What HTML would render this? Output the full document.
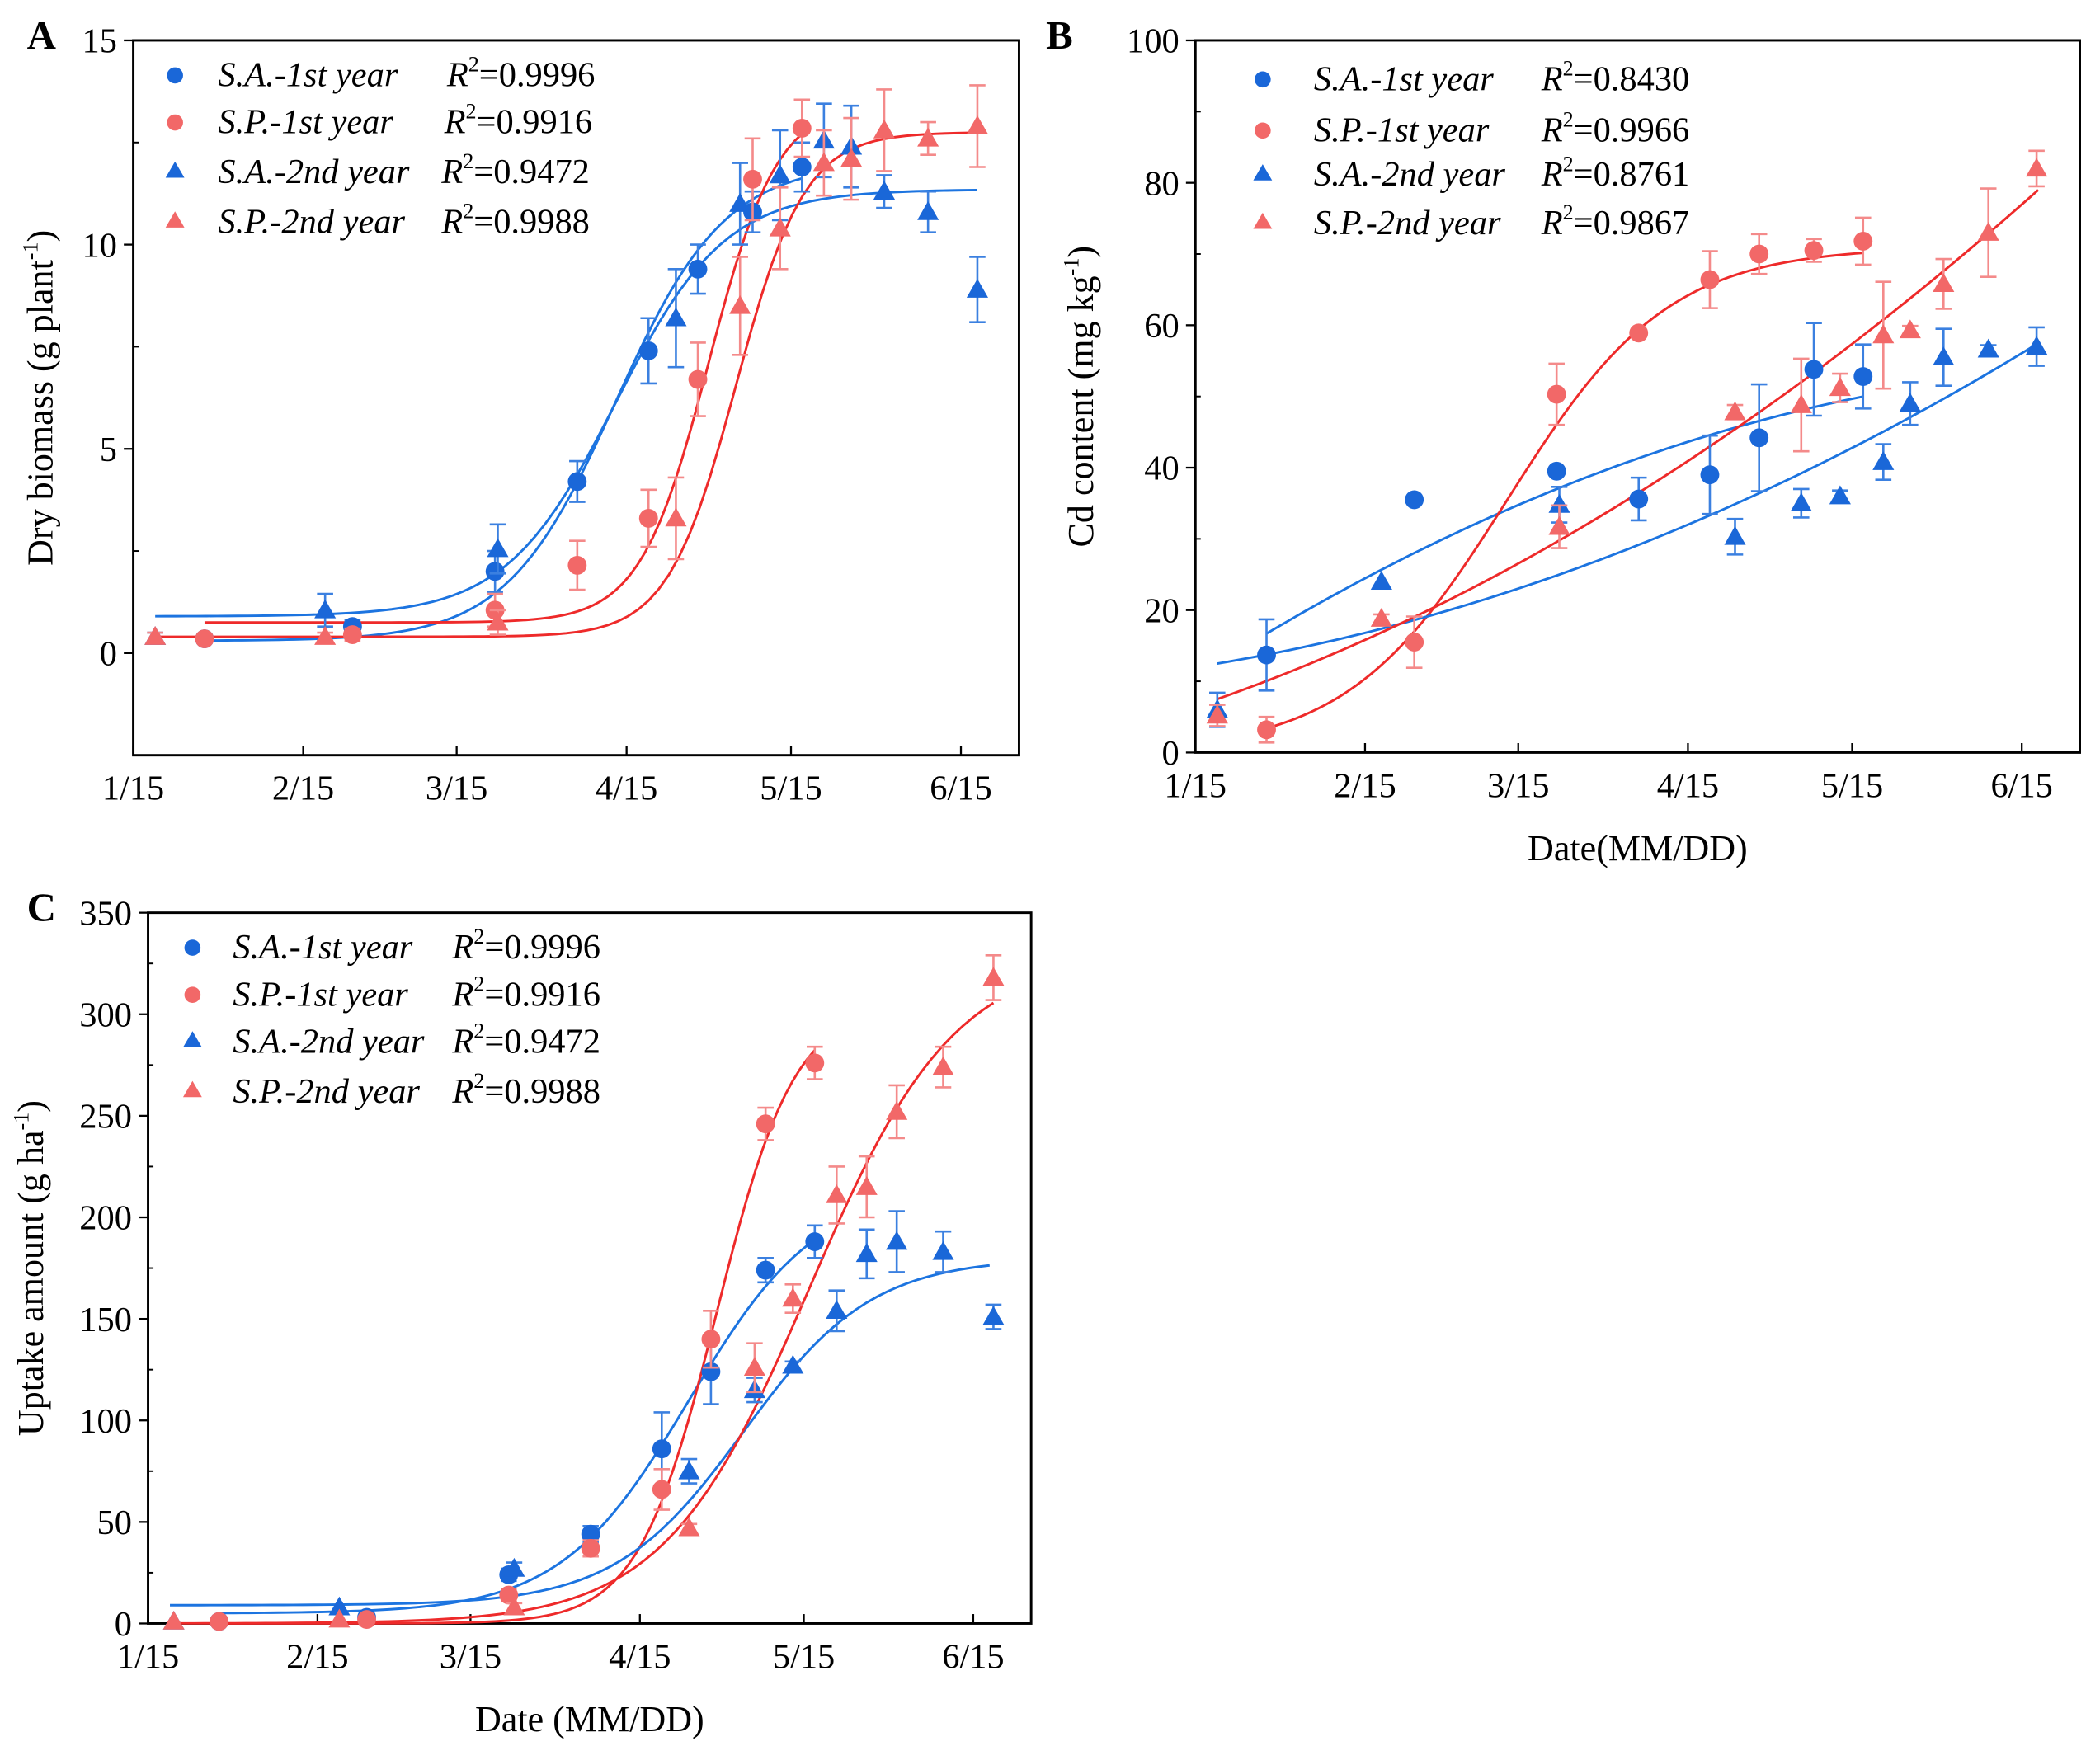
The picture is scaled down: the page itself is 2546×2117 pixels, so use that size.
<!DOCTYPE html>
<html><head><meta charset="utf-8"><style>
html,body{margin:0;padding:0;background:#fff;}
svg{display:block;font-family:"Liberation Serif",serif;}
</style></head><body>
<svg id="fig" width="2546" height="2117" viewBox="0 0 1560 1297" preserveAspectRatio="none" xmlns="http://www.w3.org/2000/svg"></svg>
<script>
// ---------- shared x axis ----------
const xTickDays = [0, 31, 59, 90, 120, 151];
const xTickLabels = ['1/15', '2/15', '3/15', '4/15', '5/15', '6/15'];
const xMaxDay = 161.6;
const seriesNames = ['S.A.-1st year', 'S.P.-1st year', 'S.A.-2nd year', 'S.P.-2nd year'];

// ---------- Panel A: dry biomass ----------
const aDays1 = [13, 40, 66, 81, 94, 103, 113, 122];
const aDays2 = [4, 35, 66.5, 99, 110.7, 118, 126, 131, 137, 145, 154];
const aSA1 = [0.35, 0.65, 2.0, 4.2, 7.4, 9.4, 10.8, 11.9];
const aSA1err = [0.1, 0.15, 0.5, 0.5, 0.8, 0.6, 0.5, 0.6];
const aSP1 = [0.35, 0.45, 1.05, 2.15, 3.3, 6.7, 11.6, 12.85];
const aSP1err = [0.1, 0.15, 0.4, 0.6, 0.7, 0.9, 1.0, 0.7];
const aSA2 = [0.4, 1.05, 2.55, 8.2, 11.0, 11.7, 12.55, 12.4, 11.3, 10.8, 8.9];
const aSA2err = [0.1, 0.4, 0.6, 1.2, 1.0, 1.1, 0.9, 1.0, 0.4, 0.5, 0.8];
const aSP2 = [0.4, 0.4, 0.75, 3.3, 8.5, 10.4, 12.0, 12.1, 12.8, 12.6, 12.9];
const aSP2err = [0.1, 0.1, 0.3, 1.0, 1.2, 1.0, 0.8, 1.0, 1.0, 0.4, 1.0];
const aR2 = ['0.9996', '0.9916', '0.9472', '0.9988'];
// logistic fit params [base, top, mid, rate, startDay, endDay]
const aFitSA1 = [0.3, 12, 88, 0.1, 13, 122];
const aFitSP1 = [0.75, 13.5, 105, 0.16, 13, 122];
const aFitSA2 = [0.9, 11.35, 88, 0.1, 4, 154];
const aFitSP2 = [0.4, 12.75, 110, 0.16, 4, 154];

// ---------- Panel B: Cd content ----------
const bDays1 = [13, 40, 66, 81, 94, 103, 113, 122];
const bDays2 = [4, 34, 66.5, 98.6, 110.7, 117.8, 125.7, 130.6, 136.7, 144.9, 153.7];
const bSA1 = [13.7, 35.5, 39.5, 35.6, 39, 44.2, 53.8, 52.8];
const bSA1err = [5, 0, 0, 3, 5.5, 7.5, 6.5, 4.5];
const bSP1 = [3.2, 15.5, 50.3, 58.9, 66.4, 70, 70.5, 71.8];
const bSP1err = [1.8, 3.6, 4.3, 0, 4, 2.8, 1.6, 3.3];
const bSA2 = [6, 24, 34.8, 30.3, 35, 36, 40.8, 49, 55.5, 56.6, 57];
const bSA2err = [2.4, 0, 2.5, 2.5, 2, 0.8, 2.5, 3, 4, 0.6, 2.7];
const bSP2 = [5.2, 18.8, 31.7, 47.8, 48.8, 51.2, 58.6, 59.3, 65.8, 73, 82];
const bSP2err = [1.5, 0.6, 3, 1, 6.5, 2, 7.5, 0.6, 3.5, 6.2, 2.5];
const bR2 = ['0.8430', '0.9966', '0.8761', '0.9867'];
const bFitSA1 = [10.53, 0.4924, -0.001385, 13, 122];   // quadratic a,b,c
const bFitSP1 = [0, 71, 57, 0.068, 13, 122];           // logistic
const bFitSA2 = [12.0, 0.1194, 0.001142, 4, 154];
const bFitSP2 = [6.44, 0.2597, 0.001373, 4, 154];

// ---------- Panel C: uptake ----------
const cDays1 = [13, 40, 66, 81, 94, 103, 113, 122];
const cDays2 = [4.7, 35, 67, 99, 111, 118, 126, 131.5, 137, 145.5, 154.7];
const cSA1 = [1, 3, 24, 44, 86, 124, 174, 188];
const cSA1err = [0, 0, 3, 4, 18, 16, 6, 8];
const cSP1 = [1, 2, 14, 37, 66, 140, 246, 276];
const cSP1err = [0, 0, 3, 4, 10, 14, 8, 8];
const cSA2 = [1, 8, 27, 75, 115, 127, 154, 182, 188, 183, 151];
const cSA2err = [0, 0, 3, 6, 6, 2, 10, 12, 15, 10, 6];
const cSP2 = [1, 2, 8, 47, 126, 160, 211, 215, 252, 274, 318];
const cSP2err = [0, 0, 2, 2, 12, 7, 14, 15, 13, 10, 11];
const cR2 = ['0.9996', '0.9916', '0.9472', '0.9988'];
const cFitSA1 = [5, 215, 99, 0.085, 13, 122];
const cFitSP1 = [0, 305, 104, 0.14, 13, 122];
const cFitSA2 = [9, 180, 109, 0.085, 4, 154];
const cFitSP2 = [0, 330, 121, 0.075, 4.7, 154.7];

const NS = 'http://www.w3.org/2000/svg';
const svg = document.getElementById('fig');
const BLUE = '#1a67d8', RED = '#f26868', BLUE_L = '#1c74e0', RED_L = '#ee2a2a';
const BLUE_E = '#3b80e0', RED_E = '#f48a8a';

function mk(tag, attrs, parent) {
  const e = document.createElementNS(NS, tag);
  for (const k in attrs) e.setAttribute(k, attrs[k]);
  (parent || svg).appendChild(e);
  return e;
}
function logistic(p, x) { return p[0] + (p[1] - p[0]) / (1 + Math.exp(-p[3] * (x - p[2]))); }
function quad(p, x) { return p[0] + p[1] * x + p[2] * x * x; }

function panel(cfg) {
  const g = mk('g', {});
  
  
  const X = d => cfg.left + (d / xMaxDay) * (cfg.right - cfg.left);
  const Y = v => cfg.bottom - (v - cfg.ymin) / (cfg.ymax - cfg.ymin) * (cfg.bottom - cfg.top);
  const box = mk('rect', {x: cfg.left, y: cfg.top, width: cfg.right - cfg.left, height: cfg.bottom - cfg.top, fill: 'none', stroke: '#000', 'stroke-width': 1.8}, g);
  
  
  xTickDays.forEach((d, i) => {
    const t = mk('line', {x1: X(d), x2: X(d), y1: cfg.bottom, y2: cfg.bottom - 7, stroke: '#000', 'stroke-width': 1.4}, g);
    
    
    const l = mk('text', {x: X(d), y: cfg.bottom + 33, 'text-anchor': 'middle', 'font-size': 26}, g);
    l.textContent = xTickLabels[i];
    
    
  });
  cfg.yticks.forEach(v => {
    const t = mk('line', {x1: cfg.left - 7, x2: cfg.left, y1: Y(v), y2: Y(v), stroke: '#000', 'stroke-width': 1.4}, g);
    
    
    const l = mk('text', {x: cfg.left - 12, y: Y(v) + 9, 'text-anchor': 'end', 'font-size': 26}, g);
    l.textContent = v;
    
    
  });
  cfg.yminor.forEach(v => {
    const t = mk('line', {x1: cfg.left, x2: cfg.left + 4, y1: Y(v), y2: Y(v), stroke: '#000', 'stroke-width': 1.2}, g);
    
    
  });
  const yt = mk('text', {x: 0, y: 0, 'text-anchor': 'middle', 'font-size': 27, transform: `translate(${cfg.left + cfg.ytx},${(cfg.top + cfg.bottom) / 2 + cfg.yty}) rotate(-90)`}, g);
  yt.innerHTML = cfg.ytitle;
  
  
  if (cfg.xtitle) {
    const xt = mk('text', {x: (cfg.left + cfg.right) / 2, y: cfg.bottom + 80, 'text-anchor': 'middle', 'font-size': 27}, g);
    xt.textContent = cfg.xtitle;
    
    
  }
  const pl = mk('text', {x: cfg.letterX, y: cfg.top + 6, 'font-size': 30, 'font-weight': 'bold'}, g);
  pl.textContent = cfg.letter;
  
  

  cfg.fits.forEach(f => {
    const p = f.p, n = 80, s = p[p.length - 2], e = p[p.length - 1];
    let d = '';
    for (let i = 0; i <= n; i++) {
      const x = s + (e - s) * i / n;
      const y = f.type === 'q' ? quad(p, x) : logistic(p, x);
      d += (i ? 'L' : 'M') + X(x).toFixed(2) + ',' + Y(y).toFixed(2);
    }
    const path = mk('path', {d: d, fill: 'none', stroke: f.color, 'stroke-width': 1.8}, g);
    
    
  });
  cfg.series.forEach(s => {
    s.days.forEach((d, i) => {
      const cx = X(d), cy = Y(s.vals[i]), e = s.err[i];
      if (e > 0) {
        const eb = mk('path', {d: `M${cx},${Y(s.vals[i] + e)}V${Y(s.vals[i] - e)}M${cx - 6},${Y(s.vals[i] + e)}H${cx + 6}M${cx - 6},${Y(s.vals[i] - e)}H${cx + 6}`, stroke: s.ecolor, 'stroke-width': 1.6, fill: 'none'}, g);
        
        
      }
      let m;
      if (s.shape === 'c') m = mk('circle', {cx: cx, cy: cy, r: 7, fill: s.color}, g);
      else m = mk('path', {d: `M${cx},${cy - 8}L${cx + 8},${cy + 6}L${cx - 8},${cy + 6}Z`, fill: s.color}, g);
      
      
    });
  });
  const lg = mk('g', {}, g);
  
  
  cfg.series.forEach((s, i) => {
    const ly = cfg.leg.rows[i];
    let m;
    if (s.shape === 'c') m = mk('circle', {cx: cfg.leg.mx, cy: ly - 8, r: 6, fill: s.color}, lg);
    else m = mk('path', {d: `M${cfg.leg.mx},${ly - 16}L${cfg.leg.mx + 7},${ly - 4}L${cfg.leg.mx - 7},${ly - 4}Z`, fill: s.color}, lg);
    
    
    const t = mk('text', {x: cfg.leg.tx, y: ly, 'font-size': 26, 'font-style': 'italic'}, lg);
    t.textContent = seriesNames[i];
    
    
    const r = mk('text', {x: cfg.leg.rx[i], y: ly, 'font-size': 26}, lg);
    r.innerHTML = `<tspan font-style="italic">R</tspan><tspan font-size="16" dy="-11">2</tspan><tspan dy="11">=${cfg.r2[i]}</tspan>`;
    
    
  });
}

panel({
  name: 'panel-a-biomass', letter: 'A', letterX: 20,
  left: 99, right: 757, top: 30, bottom: 561, ymin: -2.5, ymax: 15,
  yticks: [0, 5, 10, 15], yminor: [2.5, 7.5, 12.5],
  ytitle: 'Dry biomass (g plant<tspan font-size="16" dy="-11">-1</tspan><tspan dy="11">)</tspan>', ytx: -60, yty: 0,
  r2: aR2, leg: {mx: 130, tx: 162, rx: [332, 330, 328, 328], rows: [64, 99, 136, 173]},
  fits: [{p: aFitSA1, color: BLUE_L}, {p: aFitSP1, color: RED_L}, {p: aFitSA2, color: BLUE_L}, {p: aFitSP2, color: RED_L}],
  series: [
    {days: aDays1, vals: aSA1, err: aSA1err, shape: 'c', color: BLUE, ecolor: BLUE_E},
    {days: aDays1, vals: aSP1, err: aSP1err, shape: 'c', color: RED, ecolor: RED_E},
    {days: aDays2, vals: aSA2, err: aSA2err, shape: 't', color: BLUE, ecolor: BLUE_E},
    {days: aDays2, vals: aSP2, err: aSP2err, shape: 't', color: RED, ecolor: RED_E}
  ]
});
panel({
  name: 'panel-b-cd-content', letter: 'B', letterX: 777,
  left: 888, right: 1545, top: 30, bottom: 559, ymin: 0, ymax: 100,
  yticks: [0, 20, 40, 60, 80, 100], yminor: [10, 30, 50, 70, 90],
  ytitle: 'Cd content (mg kg<tspan font-size="16" dy="-11">-1</tspan><tspan dy="11">)</tspan>', ytx: -76, yty: 0,
  xtitle: 'Date(MM/DD)',
  r2: bR2, leg: {mx: 938, tx: 976, rx: [1145, 1145, 1145, 1145], rows: [67, 105, 138, 174]},
  fits: [{p: bFitSA1, color: BLUE_L, type: 'q'}, {p: bFitSP1, color: RED_L}, {p: bFitSA2, color: BLUE_L, type: 'q'}, {p: bFitSP2, color: RED_L, type: 'q'}],
  series: [
    {days: bDays1, vals: bSA1, err: bSA1err, shape: 'c', color: BLUE, ecolor: BLUE_E},
    {days: bDays1, vals: bSP1, err: bSP1err, shape: 'c', color: RED, ecolor: RED_E},
    {days: bDays2, vals: bSA2, err: bSA2err, shape: 't', color: BLUE, ecolor: BLUE_E},
    {days: bDays2, vals: bSP2, err: bSP2err, shape: 't', color: RED, ecolor: RED_E}
  ]
});
panel({
  name: 'panel-c-uptake', letter: 'C', letterX: 20,
  left: 110, right: 766, top: 678, bottom: 1206, ymin: 0, ymax: 350,
  yticks: [0, 50, 100, 150, 200, 250, 300, 350], yminor: [25, 75, 125, 175, 225, 275, 325],
  ytitle: 'Uptake amount (g ha<tspan font-size="16" dy="-11">-1</tspan><tspan dy="11">)</tspan>', ytx: -78, yty: 0,
  xtitle: 'Date (MM/DD)',
  r2: cR2, leg: {mx: 143, tx: 173, rx: [336, 336, 336, 336], rows: [712, 747, 782, 819]},
  fits: [{p: cFitSA1, color: BLUE_L}, {p: cFitSP1, color: RED_L}, {p: cFitSA2, color: BLUE_L}, {p: cFitSP2, color: RED_L}],
  series: [
    {days: cDays1, vals: cSA1, err: cSA1err, shape: 'c', color: BLUE, ecolor: BLUE_E},
    {days: cDays1, vals: cSP1, err: cSP1err, shape: 'c', color: RED, ecolor: RED_E},
    {days: cDays2, vals: cSA2, err: cSA2err, shape: 't', color: BLUE, ecolor: BLUE_E},
    {days: cDays2, vals: cSP2, err: cSP2err, shape: 't', color: RED, ecolor: RED_E}
  ]
});
</script>
</body></html>
